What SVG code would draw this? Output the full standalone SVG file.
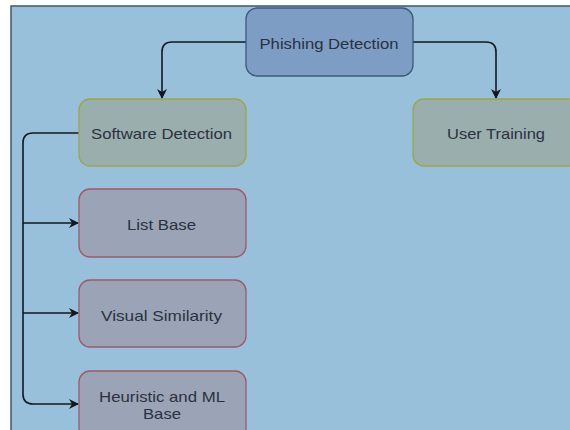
<svg xmlns="http://www.w3.org/2000/svg" width="570" height="430" viewBox="0 0 570 430">
<defs>
<style>
.node text{font-family:"Liberation Sans",Arial,sans-serif;font-size:15px;fill:#2a3140;text-anchor:middle;dominant-baseline:central}
.top rect{fill:#7d9dc5;stroke:#3d5878;stroke-width:1.3}
.grn rect{fill:#9aaeae;stroke:#9aa844;stroke-width:1.3}
.red rect{fill:#9aa4b6;stroke:#a05868;stroke-width:1.3}
.conn path{fill:none;stroke:#111820;stroke-width:1.6}
</style>
<marker id="ah" viewBox="0 0 10 10" refX="9" refY="5" markerWidth="10" markerHeight="10" markerUnits="userSpaceOnUse" orient="auto"><path d="M0,0 L10,5 L0,10 L3,5 Z" fill="#111820"/></marker>
</defs>
<rect x="0" y="0" width="570" height="430" fill="#ffffff"/>
<rect x="11" y="6" width="570" height="440" fill="#99c0da" stroke="#3e5872" stroke-width="1.5"/>
<g class="conn">
<path d="M246,42 H172 Q162,42 162,52 V98" marker-end="url(#ah)"/>
<path d="M413,42 H486 Q496,42 496,52 V98" marker-end="url(#ah)"/>
<path d="M79,133 H33 Q23,133 23,143 V394 Q23,404 33,404 H78" marker-end="url(#ah)"/>
<path d="M23,223 H78" marker-end="url(#ah)"/>
<path d="M23,313 H78" marker-end="url(#ah)"/>
</g>
<g id="phishing" class="node top"><rect x="246" y="8" width="167" height="68" rx="11"/><text x="329" y="43" textLength="139" lengthAdjust="spacingAndGlyphs">Phishing Detection</text></g>
<g id="software" class="node grn"><rect x="79" y="99" width="167" height="67" rx="11"/><text x="161.5" y="133" textLength="141" lengthAdjust="spacingAndGlyphs">Software Detection</text></g>
<g id="user" class="node grn"><rect x="413" y="99" width="167" height="67" rx="11"/><text x="496" y="133" textLength="98" lengthAdjust="spacingAndGlyphs">User Training</text></g>
<g id="list" class="node red"><rect x="79" y="189" width="167" height="68" rx="11"/><text x="161.5" y="224" textLength="69" lengthAdjust="spacingAndGlyphs">List Base</text></g>
<g id="visual" class="node red"><rect x="79" y="280" width="167" height="67" rx="11"/><text x="161.5" y="315" textLength="121" lengthAdjust="spacingAndGlyphs">Visual Similarity</text></g>
<g id="heuristic" class="node red"><rect x="79" y="371" width="167" height="68" rx="11"/><text x="162" y="396" textLength="126" lengthAdjust="spacingAndGlyphs">Heuristic and ML</text><text x="162" y="413" textLength="38" lengthAdjust="spacingAndGlyphs">Base</text></g>
</svg>
